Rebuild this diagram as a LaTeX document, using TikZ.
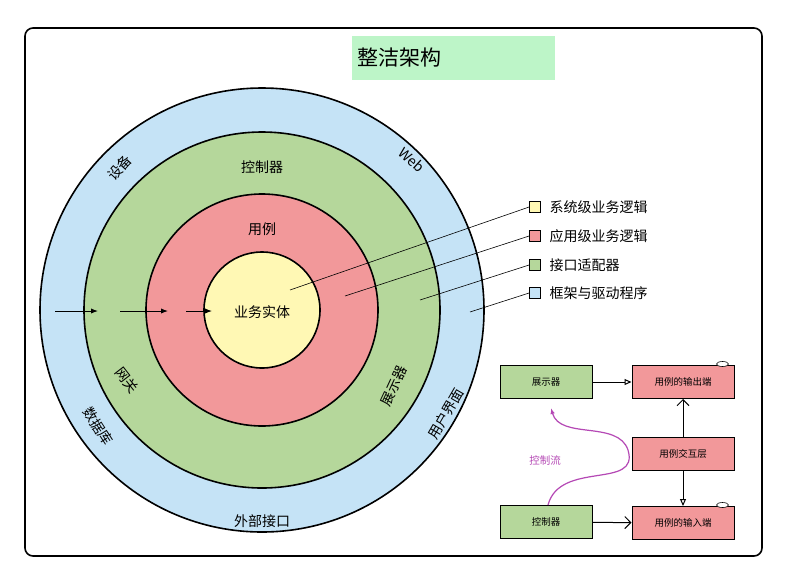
\documentclass[tikz,border=0pt]{standalone}
\usepackage{fontspec}
\setmainfont{Noto Sans CJK SC}
\usetikzlibrary{arrows.meta}
\definecolor{cblue}{HTML}{C5E3F6}
\definecolor{cgreen}{HTML}{B5D79B}
\definecolor{cred}{HTML}{F2989A}
\definecolor{cyel}{HTML}{FFF8B4}
\definecolor{ctitle}{HTML}{BDF5C8}
\definecolor{cmag}{HTML}{B548B5}
\begin{document}
\begin{tikzpicture}[x=1pt,y=-1pt,
  ring/.style={draw=black,line width=1.6pt},
  lbl/.style={font=\fontsize{14}{14}\selectfont},
  leg/.style={font=\fontsize{14}{14}\selectfont,anchor=west},
  sq/.style={draw=black,line width=0.8pt,minimum size=11pt,inner sep=0pt},
  bx/.style={draw=black,line width=1pt,minimum width=92pt,minimum height=33pt,font=\fontsize{9.5}{9.5}\selectfont},
  rbx/.style={bx,fill=cred,minimum width=102pt},
  gbx/.style={bx,fill=cgreen},
  ptr/.style={line width=0.6pt}]
\useasboundingbox (0,0) rectangle (789,574);
\fill[white] (0,0) rectangle (789,574);
\draw[line width=1.6pt,rounded corners=8pt,fill=white] (25,28) rectangle (762,556);
\node[fill=ctitle,minimum width=203pt,minimum height=44pt,anchor=north west,inner sep=0pt] (title) at (352,36) {};
\node[font=\fontsize{21}{21}\selectfont,anchor=west] at (354,58) {整洁架构};
\coordinate (c) at (262,310);
\draw[ring,fill=cblue] (c) circle (222);
\draw[ring,fill=cgreen] (c) circle (178);
\draw[ring,fill=cred] (c) circle (116);
\draw[ring,fill=cyel] (c) circle (58);
\node[lbl] (be) at (262,312) {业务实体};
\node[lbl] (uc) at (262,229) {用例};
\node[lbl] (ctl) at (262,167) {控制器};
\node[lbl,inner sep=0pt,rotate=65] (pres) at (394,386) {展示器};
\node[lbl,inner sep=0pt,rotate=-52] (gw) at (127,380) {网关};
\node[lbl,inner sep=0pt,rotate=48] (dev) at (120,168) {设备};
\node[lbl,inner sep=0pt,rotate=-42] (web) at (412,160) {Web};
\node[lbl,inner sep=0pt,rotate=-57] (db) at (98,426) {数据库};
\node[lbl,inner sep=0pt,rotate=60] (ui) at (446,414) {用户界面};
\node[lbl] (ext) at (262,521) {外部接口};
\foreach \a/\b in {55/98,120/168,186/212}
  \draw[-{Latex[length=7pt]},line width=1pt] (\a,311) -- (\b,311);
\node[sq,fill=cyel] (s1) at (535,207) {};
\node[sq,fill=cred] (s2) at (535,236) {};
\node[sq,fill=cgreen] (s3) at (535,265) {};
\node[sq,fill=cblue] (s4) at (535,293) {};
\node[leg] (l1) at (546,207) {系统级业务逻辑};
\node[leg] (l2) at (546,236) {应用级业务逻辑};
\node[leg] (l3) at (546,265) {接口适配器};
\node[leg] (l4) at (546,293) {框架与驱动程序};
\coordinate (p1) at (290,290);
\coordinate (p2) at (345,296);
\coordinate (p3) at (420,300);
\coordinate (p4) at (470,312);
\draw[ptr] (s1.west) -- (p1);
\draw[ptr] (s2.west) -- (p2);
\draw[ptr] (s3.west) -- (p3);
\draw[ptr] (s4.west) -- (p4);
\node[gbx] (zs) at (546,382) {展示器};
\node[rbx] (out) at (683,382) {用例的输出端};
\node[rbx] (ia) at (683,454) {用例交互层};
\node[gbx] (kz) at (546,522) {控制器};
\node[rbx] (in) at (683,523) {用例的输入端};
\draw[line width=1pt,-{Triangle[open,length=7pt,width=6pt]}] (zs) -- (out);
\draw[line width=1pt,-{Straight Barb[length=6pt]}] (kz) -- (in);
\draw[line width=1pt,-{Straight Barb[length=6pt]}] (ia) -- (out);
\draw[line width=1pt,-{Triangle[open,length=7pt,width=6pt]}] (ia) -- (in);
\foreach \n in {out,in}
  \draw[line width=0.6pt,fill=white] ([xshift=-12pt,yshift=1pt]\n.north east) ellipse (6pt and 2.5pt);
\coordinate (m0) at (548,505);
\coordinate (m1) at (551,408);
\draw[cmag,line width=1.2pt,-{Latex[length=6pt]}] (m0) .. controls (560,460) and (640,490) .. (628,450) .. controls (618,420) and (560,440) .. (m1);
\node[cmag,font=\fontsize{10.5}{10.5}\selectfont] (cf) at (545,460) {控制流};
\end{tikzpicture}
\end{document}
